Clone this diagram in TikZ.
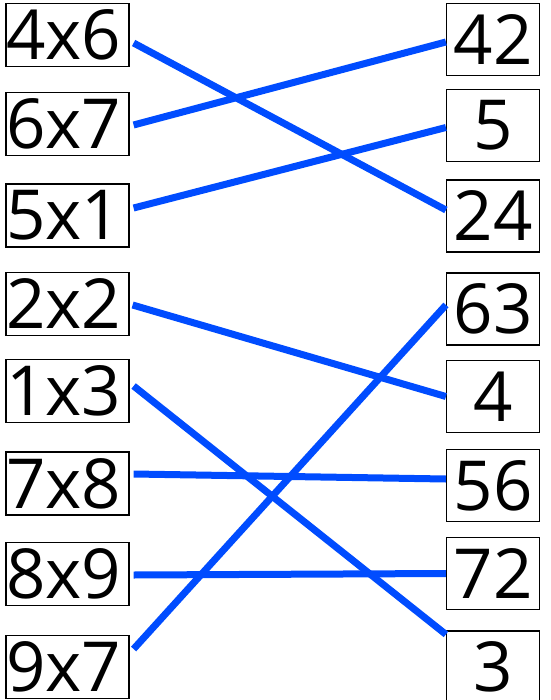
\documentclass[tikz,border=0pt]{standalone}
\usepackage{fontspec}
\setmainfont{Open Sans}
\usepackage{xcolor}
\usepackage{tikz}
\definecolor{linkblue}{RGB}{0,76,255}
\tikzset{
  lbox/.style={rectangle, draw=black, line width=1.2pt, minimum height=63pt, text width=123pt, align=left, inner xsep=0pt, inner ysep=0pt, font=\fontsize{69}{70}\selectfont},
  rbox/.style={rectangle, draw=black, line width=1.2pt, minimum width=93pt, minimum height=72pt, align=center, inner sep=0pt, font=\fontsize{69}{70}\selectfont},
  link/.style={line width=7pt, linkblue}
}

\begin{document}
\begin{tikzpicture}[x=1pt, y=-1pt]
\useasboundingbox (0,0) rectangle (550,700);
% left column
\node[lbox] (l46) at (67.5,35) {4x6};
\node[lbox] (l67) at (67.5,124) {6x7};
\node[lbox] (l51) at (67.5,215.5) {5x1};
\node[lbox] (l22) at (67.5,304) {2x2};
\node[lbox] (l13) at (67.5,391) {1x3};
\node[lbox] (l78) at (67.5,483.5) {7x8};
\node[lbox] (l89) at (67.5,574) {8x9};
\node[lbox] (l97) at (67.5,667) {9x7};
% right column
\node[rbox] (r42) at (493,39.5) {42};
\node[rbox] (r5) at (493,125.5) {5};
\node[rbox] (r24) at (493,216) {24};
\node[rbox] (r63) at (493,309) {63};
\node[rbox] (r4) at (493,396.5) {4};
\node[rbox] (r56) at (493,485.5) {56};
\node[rbox] (r72) at (493,573.5) {72};
\node[rbox] (r3) at (493,667) {3};
% matching lines
\draw[link] ([xshift=4pt,yshift=-8pt]l46.east) -- ([yshift=6pt]r24.west);
\draw[link] ([xshift=4pt,yshift=-1pt]l67.east) -- ([yshift=-2.5pt]r42.west);
\draw[link] ([xshift=4pt,yshift=7.5pt]l51.east) -- ([yshift=-2pt]r5.west);
\draw[link] ([xshift=3pt,yshift=-1pt]l22.east) -- (r4.west);
\draw[link] ([xshift=4pt,yshift=5pt]l13.east) -- ([yshift=-4pt]r3.north west);
\draw[link] ([xshift=4pt,yshift=9.5pt]l78.east) -- ([yshift=6.5pt]r56.west);
\draw[link] ([xshift=4pt,yshift=-1pt]l89.east) -- (r72.west);
\draw[link] ([xshift=4pt,yshift=18pt]l97.east) -- ([yshift=4pt]r63.west);
\end{tikzpicture}
\end{document}
